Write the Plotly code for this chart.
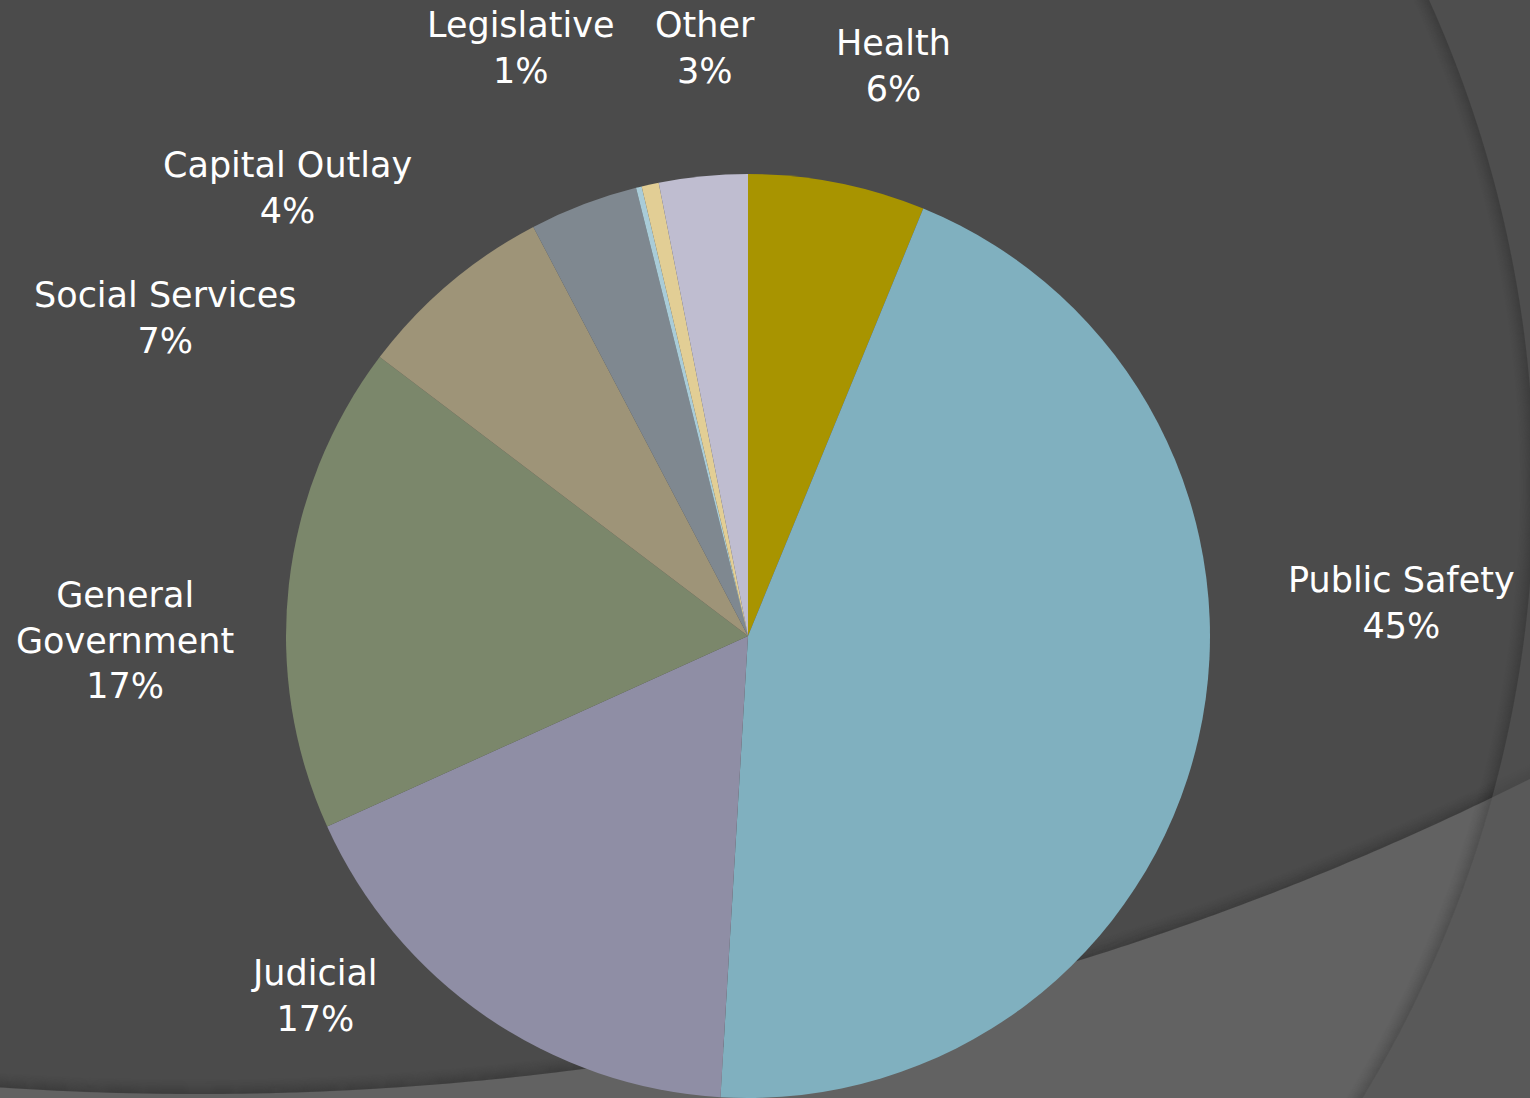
import numpy as np
import plotly.graph_objects as go

# Budget shares by function (percent of total spending)
categories = ["Health", "Public Safety", "Judicial", "General Government",
              "Social Services", "Capital Outlay", "Unlabeled", "Legislative", "Other"]
shares = [6.2, 44.8, 17.3, 17.1, 7.0, 3.8, 0.2, 0.6, 3.1]
slice_colors = ["#A89400", "#80B0BF", "#8F8EA5", "#7B876B", "#9E9478",
                "#7F8890", "#A9CCD8", "#E2CE95", "#BFBDD0"]
# Text shown for each slice (None = no label drawn)
display_names = ["Health", "Public Safety", "Judicial", "General<br>Government",
                 "Social Services", "Capital Outlay", None, "Legislative", "Other"]

W, H = 1530, 1098


def px(x, y):
    """Convert pixel position to paper coordinates."""
    return x / W, 1 - y / H


def path_str(points, close=False):
    parts = []
    for i, (x, y) in enumerate(points):
        xp, yp = px(x, y)
        parts.append(("M" if i == 0 else "L") + f"{xp:.5f},{yp:.5f}")
    return " ".join(parts) + (" Z" if close else "")


def arc_a(r_off=0.0):
    # large backdrop circle, lower edge sweeping up to the right
    cx, cy, R = 198.0, -1878.0, 2972.0 - r_off
    xs = np.linspace(-30, W + 30, 240)
    ys = cy + np.sqrt(R ** 2 - (xs - cx) ** 2)
    return list(zip(xs, ys))


def arc_b(r_off=0.0):
    # right-hand backdrop circle edge
    cx, cy, R = 357.0, 486.0, 1177.0 - r_off
    ys = np.linspace(-30, H + 30, 240)
    xs = cx + np.sqrt(R ** 2 - (ys - cy) ** 2)
    return list(zip(xs, ys))


def soft_shadow(arc_fn, depth=14.0, peak=0.10):
    # stack of thin strokes fading away from the edge
    out = []
    for off in np.arange(0.5, depth, 1.0):
        a = peak * (1 - off / depth) ** 1.5
        out.append(dict(type="path", path=path_str(arc_fn(off)), xref="paper", yref="paper",
                        line=dict(color=f"rgba(0,0,0,{a:.3f})", width=1.2), layer="below"))
    return out


shapes = []
# dark upper backdrop
shapes.append(dict(type="path", path=path_str(arc_a() + [(W + 30, -30), (-30, -30)], True),
                   xref="paper", yref="paper", fillcolor="#4B4B4B",
                   line=dict(width=0), layer="below"))
shapes += soft_shadow(arc_a, depth=16, peak=0.16)
# right-hand translucent band
shapes.append(dict(type="path", path=path_str(arc_b() + [(W + 40, H + 30), (W + 40, -30)], True),
                   xref="paper", yref="paper", fillcolor="rgba(82,82,82,0.54)",
                   line=dict(width=0), layer="below"))
shapes += soft_shadow(arc_b, depth=16, peak=0.16)

# pie placement: center (748, 636), radius 462
pie_x0, pie_x1 = px(286, 0)[0], px(1210, 0)[0]
pie_y0, pie_y1 = 0.0, 924 / H

fig = go.Figure(go.Pie(
    labels=categories,
    values=shares,
    sort=False,
    direction="clockwise",
    rotation=0,
    marker=dict(colors=slice_colors, line=dict(width=0)),
    textinfo="none",
    hoverinfo="label+percent",
    showlegend=False,
    domain=dict(x=[pie_x0, pie_x1], y=[pie_y0, pie_y1]),
))

# label anchor positions (pixels)
label_pos = [(893, 66), (1401, 603), (314, 996), (125, 640),
             (165, 318), (287, 188), None, (520, 48), (705, 48)]

total = sum(shares)
annotations = []
for name, val, pos in zip(display_names, shares, label_pos):
    if name is None or pos is None:
        continue
    pct = int(round(val / total * 100))
    xp, yp = px(*pos)
    annotations.append(dict(
        x=xp, y=yp, xref="paper", yref="paper",
        text=f"{name}<br>{pct}%", showarrow=False,
        xanchor="center", yanchor="middle", align="center",
        font=dict(family="DejaVu Sans", size=35, color="#FFFFFF"),
    ))

fig.update_layout(
    width=W, height=H,
    margin=dict(l=0, r=0, t=0, b=0),
    paper_bgcolor="#626262",
    plot_bgcolor="#626262",
    shapes=shapes,
    annotations=annotations,
)

fig.write_html("out.html")
